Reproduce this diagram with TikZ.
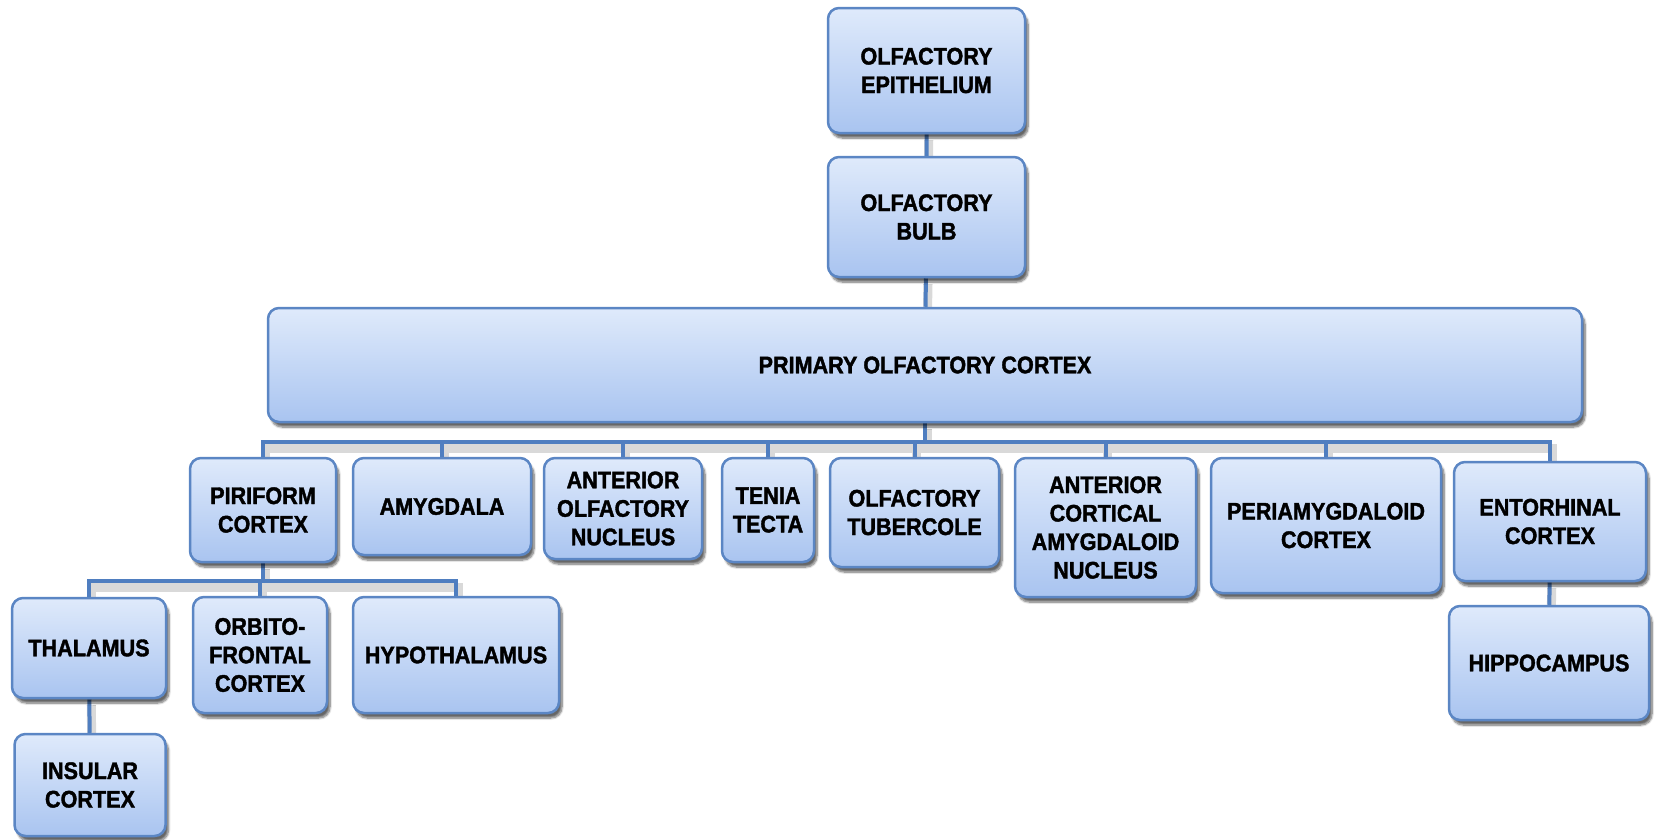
\documentclass[tikz,border=0pt]{standalone}
\usepackage{fontspec}
\setmainfont{Liberation Sans}[BoldFeatures={FakeBold=1.6,FakeStretch=0.9}]
\usetikzlibrary{shadows.blur,backgrounds}
\definecolor{boxtop}{HTML}{DFEAFB}
\definecolor{boxbottom}{HTML}{A9C4F0}
\definecolor{boxline}{HTML}{5B86C4}
\definecolor{linkblue}{HTML}{4F7EC0}
\tikzset{
	region/.style={draw=boxline, line width=2.5pt, rounded corners=11pt, top color=boxtop, bottom color=boxbottom,
		align=center, font=\bfseries\fontsize{24}{28.5}\selectfont,
		blur shadow={shadow xshift=3pt, shadow yshift=-5pt, shadow blur steps=8, shadow opacity=60}},
	link/.style={draw=linkblue, line width=4pt,
		preaction={draw=black!15, line width=9pt, transform canvas={xshift=2pt, yshift=-6pt}}}
}
\begin{document}
\begin{tikzpicture}[x=1pt,y=-1pt]
	\useasboundingbox (0,0) rectangle (1657,839);
	\node[region, minimum width=197pt, minimum height=125pt] (epi) at (926.5,70.5) {OLFACTORY\\EPITHELIUM};
	\node[region, minimum width=197pt, minimum height=120pt] (bulb) at (926.5,217) {OLFACTORY\\BULB};
	\node[region, minimum width=1314pt, minimum height=114pt] (prim) at (925,365) {PRIMARY OLFACTORY CORTEX};
	\node[region, minimum width=146pt, minimum height=104pt] (pir) at (263,510) {PIRIFORM\\CORTEX};
	\node[region, minimum width=178pt, minimum height=97pt] (amy) at (442,506.5) {AMYGDALA};
	\node[region, minimum width=158pt, minimum height=101pt] (aon) at (623,508.5) {ANTERIOR\\OLFACTORY\\NUCLEUS};
	\node[region, minimum width=92pt, minimum height=104pt] (ten) at (768,510) {TENIA\\TECTA};
	\node[region, minimum width=169pt, minimum height=109pt] (tub) at (914.5,512.5) {OLFACTORY\\TUBERCOLE};
	\node[region, minimum width=181pt, minimum height=139pt] (aca) at (1105.5,527.5) {ANTERIOR\\CORTICAL\\AMYGDALOID\\NUCLEUS};
	\node[region, minimum width=230pt, minimum height=135pt] (per) at (1326,525.5) {PERIAMYGDALOID\\CORTEX};
	\node[region, minimum width=192pt, minimum height=119pt] (ent) at (1550,521.5) {ENTORHINAL\\CORTEX};
	\node[region, minimum width=154pt, minimum height=100pt] (tha) at (89,648) {THALAMUS};
	\node[region, minimum width=134pt, minimum height=116pt] (orb) at (260,655) {ORBITO-\\FRONTAL\\CORTEX};
	\node[region, minimum width=206pt, minimum height=116pt] (hyp) at (456,655) {HYPOTHALAMUS};
	\node[region, minimum width=200pt, minimum height=114pt] (hip) at (1549,663) {HIPPOCAMPUS};
	\node[region, minimum width=151pt, minimum height=102pt] (ins) at (90,785) {INSULAR\\CORTEX};
	\begin{scope}[on background layer]
		\coordinate (bus) at (925,442);
		\coordinate (subbus) at (263,581);
		\draw[link] (epi) -- (bulb) (bulb) -- (prim);
		\draw[link] (prim.south) -- (prim.south |- bus) (pir.north) |- (bus -| ent.north) -- (ent.north)
			\foreach \n in {amy,aon,ten,tub,aca,per}{(\n.north) -- (\n.north |- bus)};
		\draw[link] (pir.south) -- (subbus) (tha.north) |- (subbus -| hyp.north) -- (hyp.north) (orb.north) -- (orb.north |- subbus);
		\draw[link] (tha) -- (ins) (ent) -- (hip);
	\end{scope}
\end{tikzpicture}
\end{document}
